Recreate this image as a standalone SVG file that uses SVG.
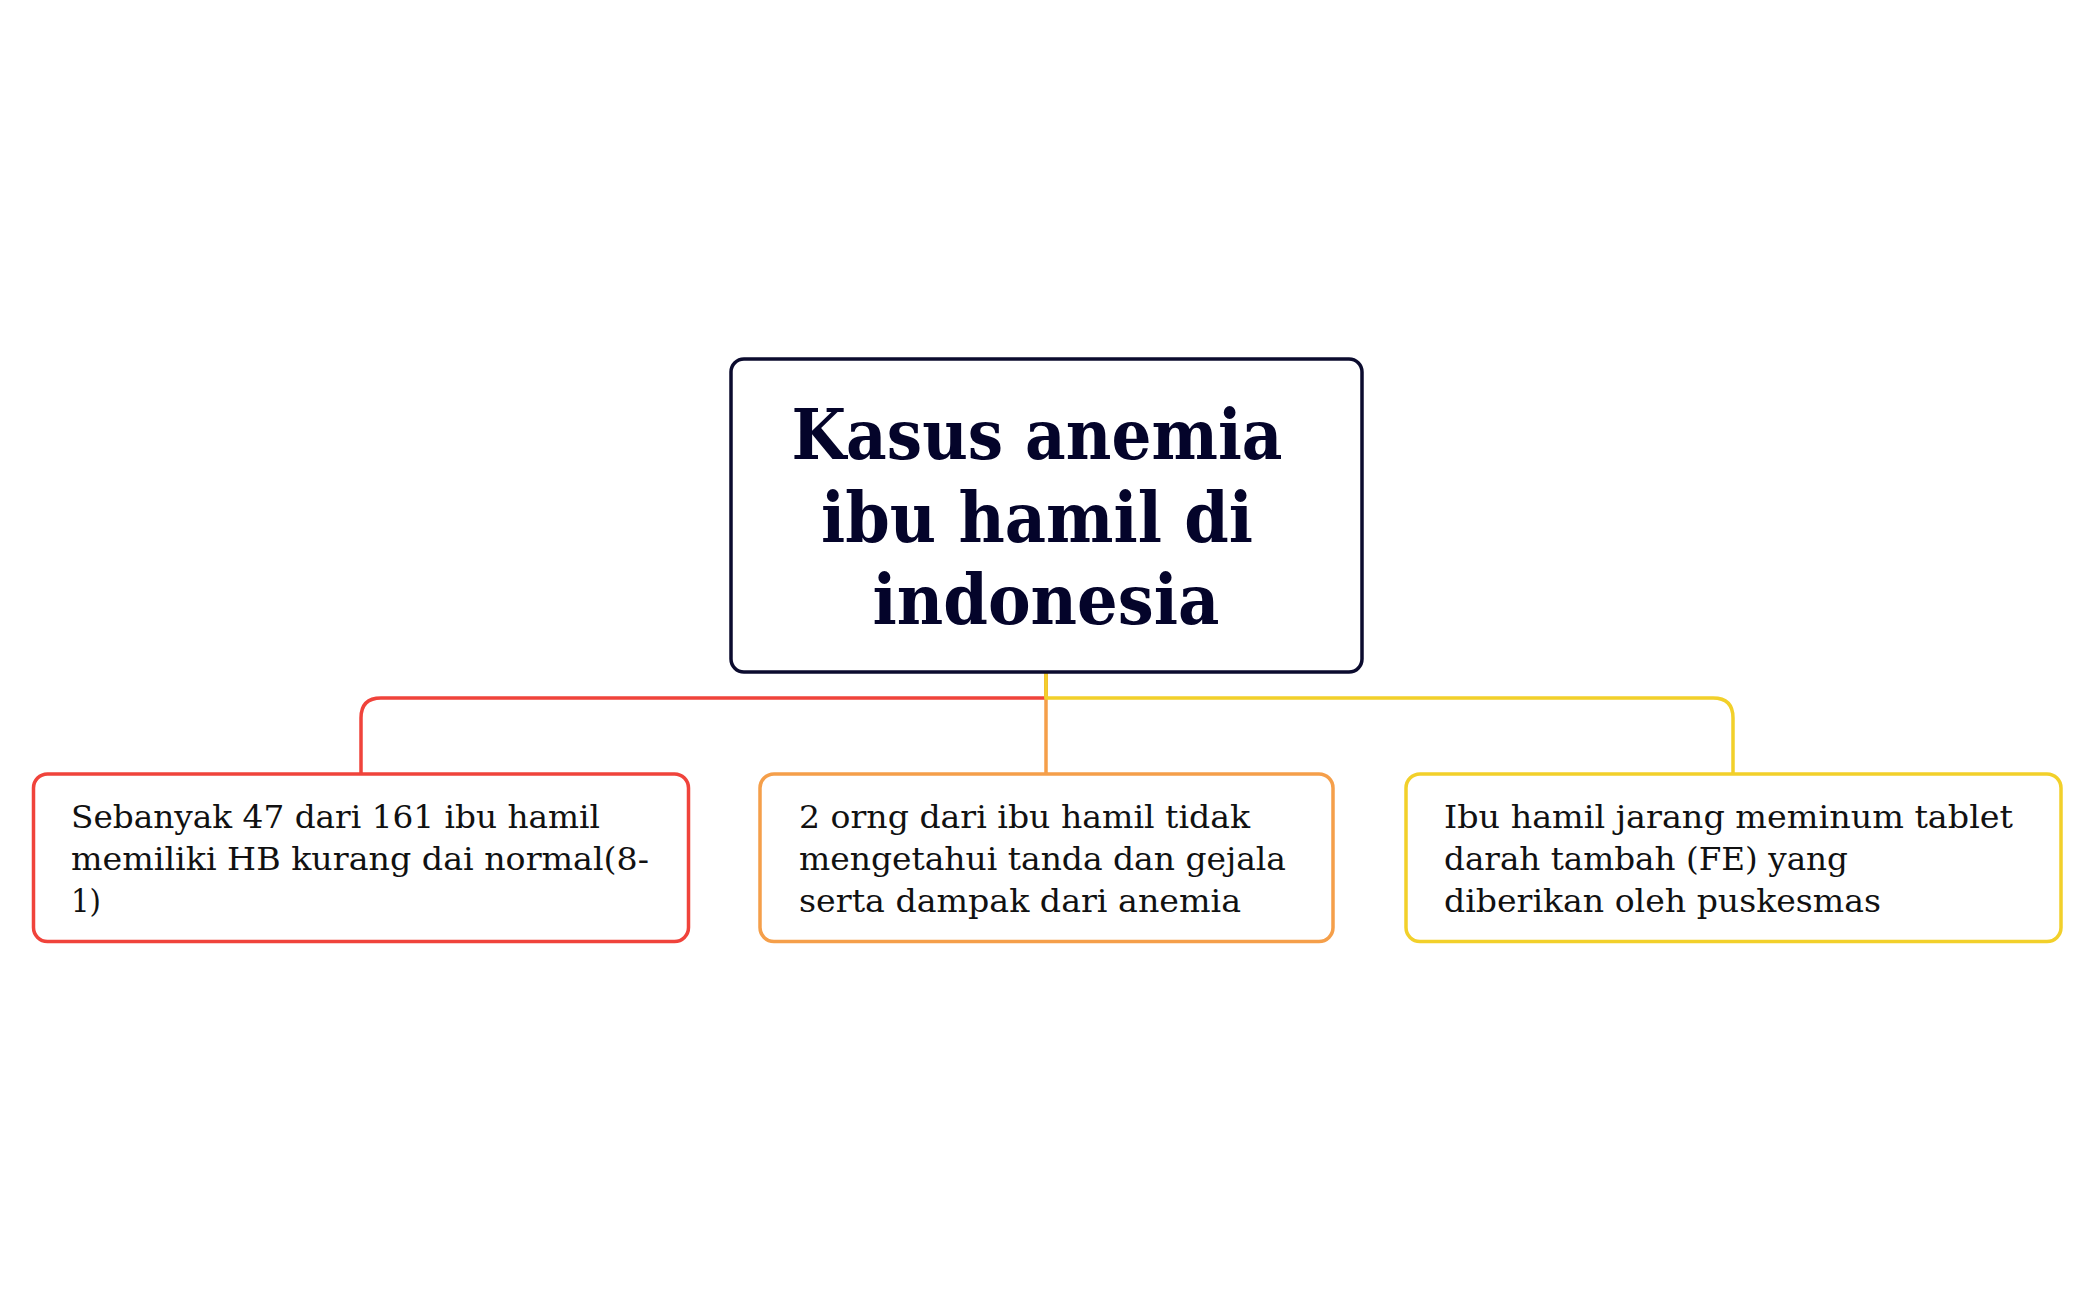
<svg xmlns="http://www.w3.org/2000/svg" width="2094" height="1300" viewBox="0 0 2094 1300">
<style>
.conn{fill:none;stroke-width:3.5;stroke-linejoin:round}
.box{fill:#ffffff;stroke-width:3.5}
.title{font-family:"DejaVu Serif","Liberation Serif",serif;font-weight:bold;font-size:69px;fill:#04042a;text-anchor:middle}
.txt{font-family:"DejaVu Serif","Liberation Serif",serif;font-size:32.5px;fill:#111111}
</style>
<rect width="2094" height="1300" fill="#ffffff"/>
<g id="connectors">
<path class="conn" stroke="#f0433b" d="M1046,672 V698 H381 Q361,698 361,718 V774"/>
<path class="conn" stroke="#f59f4a" d="M1046,672 V774"/>
<path class="conn" stroke="#f2d02a" d="M1046,672 V698 H1713 Q1733,698 1733,718 V774"/>
</g>
<g id="root">
<rect x="731" y="359" width="631" height="313" rx="13" fill="#ffffff" stroke="#0b0b2e" stroke-width="3.5"/>
<text class="title" x="1037" y="459" textLength="491" lengthAdjust="spacingAndGlyphs">Kasus anemia</text>
<text class="title" x="1037" y="542" textLength="432" lengthAdjust="spacingAndGlyphs">ibu hamil di</text>
<text class="title" x="1046" y="624" textLength="347" lengthAdjust="spacingAndGlyphs">indonesia</text>
</g>
<g id="node-red">
<rect class="box" x="33.5" y="774" width="655" height="167.5" rx="14" stroke="#f0433b"/>
<text class="txt" x="71" y="828" textLength="529" lengthAdjust="spacingAndGlyphs">Sebanyak 47 dari 161 ibu hamil</text>
<text class="txt" x="71" y="870" textLength="578" lengthAdjust="spacingAndGlyphs">memiliki HB kurang dai normal(8-</text>
<text class="txt" x="71" y="912" textLength="30" lengthAdjust="spacingAndGlyphs">1)</text>
</g>
<g id="node-orange">
<rect class="box" x="760" y="774" width="573" height="167.5" rx="14" stroke="#f59f4a"/>
<text class="txt" x="799" y="828" textLength="451" lengthAdjust="spacingAndGlyphs">2 orng dari ibu hamil tidak</text>
<text class="txt" x="799" y="870" textLength="487" lengthAdjust="spacingAndGlyphs">mengetahui tanda dan gejala</text>
<text class="txt" x="799" y="912" textLength="442" lengthAdjust="spacingAndGlyphs">serta dampak dari anemia</text>
</g>
<g id="node-yellow">
<rect class="box" x="1406" y="774" width="655" height="167.5" rx="14" stroke="#f2d02a"/>
<text class="txt" x="1444" y="828" textLength="569" lengthAdjust="spacingAndGlyphs">Ibu hamil jarang meminum tablet</text>
<text class="txt" x="1444" y="870" textLength="404" lengthAdjust="spacingAndGlyphs">darah tambah (FE) yang</text>
<text class="txt" x="1444" y="912" textLength="437" lengthAdjust="spacingAndGlyphs">diberikan oleh puskesmas</text>
</g>
</svg>
